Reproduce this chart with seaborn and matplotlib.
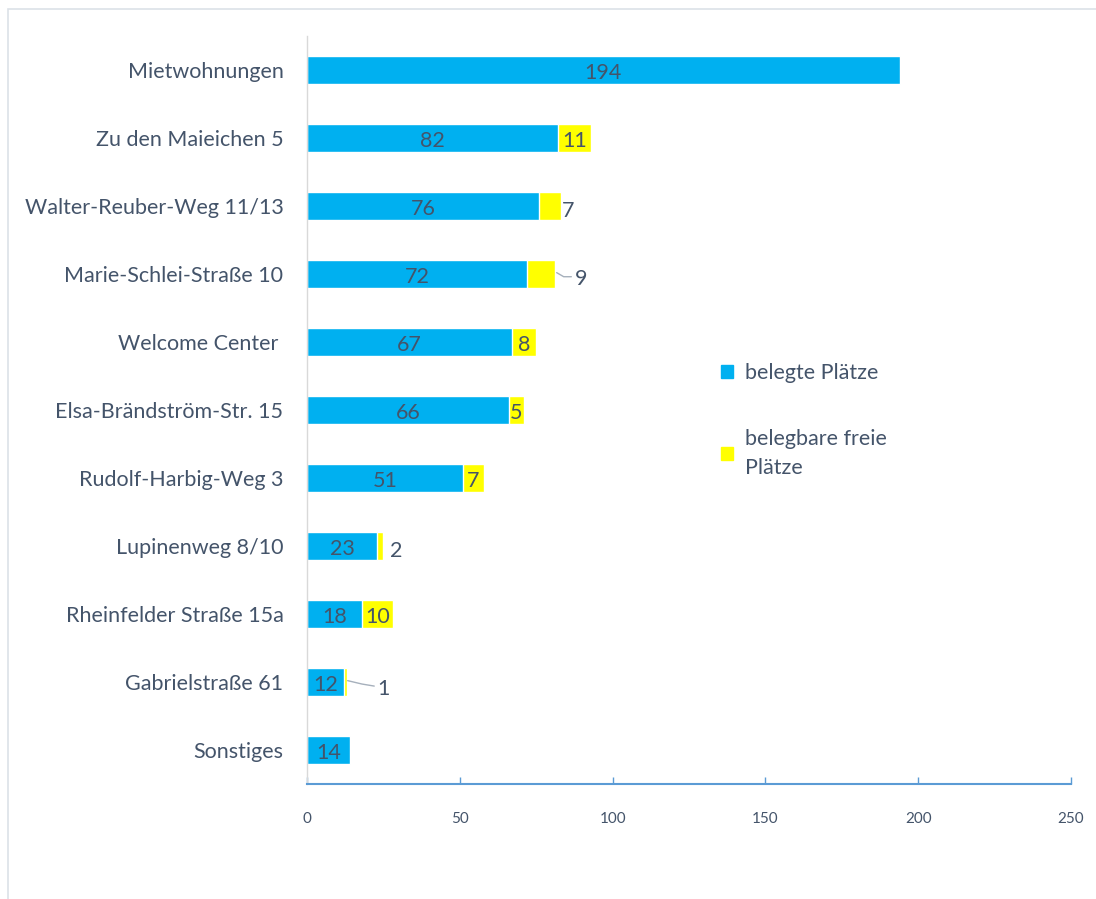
import numpy as np
import pandas as pd
import matplotlib.pyplot as plt
import matplotlib.patches as mpatches
import seaborn as sns

# data
categories = ['Mietwohnungen', 'Zu den Maieichen 5', 'Walter-Reuber-Weg 11/13',
              'Marie-Schlei-Straße 10', 'Welcome Center ', 'Elsa-Brändström-Str. 15',
              'Rudolf-Harbig-Weg 3', 'Lupinenweg 8/10', 'Rheinfelder Straße 15a',
              'Gabrielstraße 61', 'Sonstiges']
belegt = [194, 82, 76, 72, 67, 66, 51, 23, 18, 12, 14]
frei = [0, 11, 7, 9, 8, 5, 7, 2, 10, 1, 0]
x_ticks = [0, 50, 100, 150, 200, 250]

BLUE = '#00B0F0'
YELLOW = '#FFFF00'
TXT = '#44546A'

sns.set_theme(style='white')
plt.rcParams['font.family'] = ['Lato', 'DejaVu Sans']

df = pd.DataFrame({'cat': categories, 'belegt': belegt, 'frei': frei})
df['gesamt'] = df['belegt'] + df['frei']

fig = plt.figure(figsize=(10.96, 8.99), dpi=100)
ax = fig.add_axes([307 / 1096, 1 - 784 / 899, (1071 - 307) / 1096, (784 - 36) / 899])

# stacked: total in yellow, occupied in blue on top
sns.barplot(data=df, y='cat', x='gesamt', color=YELLOW, width=0.4,
            saturation=1, ax=ax, orient='h')
sns.barplot(data=df, y='cat', x='belegt', color=BLUE, width=0.4,
            saturation=1, ax=ax, orient='h')

ax.set_xlim(0, 250)
ax.set_ylim(len(categories) - 0.5, -0.5)
ax.set_xlabel('')
ax.set_ylabel('')
ax.set_xticks(x_ticks)
ax.tick_params(axis='x', bottom=True, direction='in', length=5, width=1,
               color='#5B9BD5', pad=20, labelsize=11, labelcolor=TXT)
ax.tick_params(axis='y', left=False, length=0, pad=17, labelsize=15.5, labelcolor=TXT)

for s in ['top', 'right']:
    ax.spines[s].set_visible(False)
ax.spines['bottom'].set_color('#5B9BD5')
ax.spines['bottom'].set_linewidth(1.5)
ax.spines['left'].set_color('#D9D9D9')
ax.spines['left'].set_linewidth(1)

FS = 15.5
# data labels
for i, (b, f) in enumerate(zip(belegt, frei)):
    ax.text(b / 2, i + 0.05, str(b), ha='center', va='center', fontsize=FS, color=TXT)
    if f == 0:
        continue
    name = categories[i]
    if name in ('Walter-Reuber-Weg 11/13', 'Lupinenweg 8/10'):
        off = 0.3 if f == 7 else 2.2
        ax.text(b + f + off, i + 0.07, str(f), ha='left', va='center',
                fontsize=FS, color=TXT)
    elif name == 'Marie-Schlei-Straße 10':
        ax.plot([b + f + 0.7, b + f + 3, b + f + 5.5], [i - 0.02, i + 0.04, i + 0.04],
                color='#A6B0BC', lw=1)
        ax.text(b + f + 6.5, i + 0.07, str(f), ha='left', va='center',
                fontsize=FS, color=TXT)
    elif name == 'Gabrielstraße 61':
        ax.plot([b + f + 0.3, b + f + 5, b + f + 9], [i - 0.02, i + 0.03, i + 0.06],
                color='#A6B0BC', lw=1)
        ax.text(b + f + 10, i + 0.1, str(f), ha='left', va='center',
                fontsize=FS, color=TXT)
    else:
        ax.text(b + f / 2, i + 0.05, str(f), ha='center', va='center', fontsize=FS,
                color=TXT)

# legend
handles = [mpatches.Patch(color=BLUE, label='belegte Plätze'),
           mpatches.Patch(color=YELLOW, label='belegbare freie\nPlätze')]
leg = fig.legend(handles=handles, loc='upper left',
                 bbox_to_anchor=(702 / 1096, 1 - 344 / 899),
                 frameon=False, fontsize=15.5, labelcolor=TXT, handlelength=0.55,
                 handleheight=0.55, handletextpad=0.55, labelspacing=2.1)
for t in leg.get_texts():
    t.set_linespacing(1.6)

# outer frame
fig.patches.append(mpatches.Rectangle((8 / 1096, -0.01), 1.05, 1 - 9 / 899 + 0.01,
                                      transform=fig.transFigure, fill=False,
                                      edgecolor='#DCE1E8', lw=1.2))

fig.savefig('out.png', dpi=100)
